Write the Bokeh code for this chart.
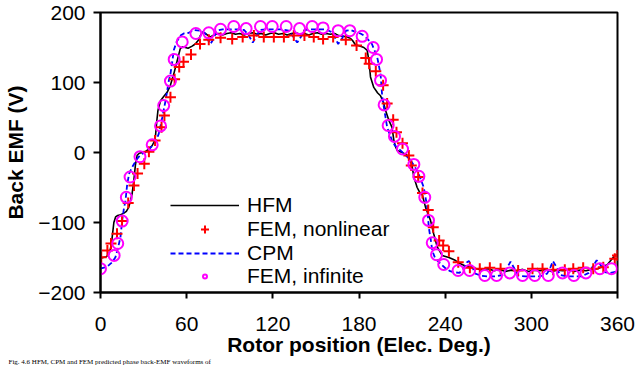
from bokeh.plotting import figure
from bokeh.models import Range1d, FixedTicker, Legend, LegendItem, Label
from bokeh.embed import file_html
from bokeh.resources import INLINE

# ---- data ----
x_ticks = [0, 60, 120, 180, 240, 300, 360]
y_ticks = [-200, -100, 0, 100, 200]

hfm_deg = [0, 2, 4, 5.5, 6.5, 7.5, 8.3, 9.3, 10.5, 12, 14, 16, 18, 19.7, 21, 22, 23.2, 24.3, 25.5, 27,
           29, 31, 33.7, 36, 37.5, 38.3, 39.2, 40, 41.8, 44, 46.4, 48.5, 51, 53.4, 55.5, 57, 59, 61, 63.8, 66,
           68, 69.5, 71, 73, 75, 76.6, 79, 82, 85, 88, 91, 94, 97, 100, 103, 106, 109, 112, 115, 118,
           121, 124, 127, 130, 133, 136, 139, 142, 145, 148, 151, 154, 157, 160, 163, 166, 169, 172, 174, 175.5,
           177.5, 180.5, 183.4, 185.7, 187, 188, 190.3, 193, 195, 197, 198.5, 200.8, 203, 204.3, 205.5, 206.6, 210, 213, 215.9, 217,
           218.2, 220.5, 222, 224, 226.3, 229.8, 232, 234.5, 237.9, 242.6, 247, 250.7, 254, 257.7, 262, 266, 270, 274, 278, 282,
           286, 290, 294, 298, 302, 306, 310, 314, 318, 322, 326, 330, 334, 338, 342, 346, 350, 353, 355, 357,
           358.6, 360]
hfm_v = [-151, -150, -149, -146, -141, -132, -118, -100, -92, -90, -89, -87, -84, -78, -68, -59, -40, -18, -4, -1,
         0, 1, 5, 10, 16, 24, 45, 60, 74, 80, 86, 95, 112, 131, 148, 151, 150, 149, 152, 155,
         160, 167, 172, 170, 167, 165, 168, 170, 168, 170, 171, 169, 170, 168, 170, 171, 169, 170, 168, 170,
         171, 169, 170, 168, 170, 171, 169, 170, 168, 170, 171, 169, 170, 169, 170, 167, 166, 165, 163, 160,
         154, 152, 150, 146, 130, 108, 93, 85, 81, 72, 60, 46, 36, 17, 8, 3, 0, -3, -11, -20,
         -35, -50, -56, -60, -78, -97, -116, -135, -147, -150, -154, -159, -162, -164, -166, -168, -166, -169, -167, -170,
         -168, -169, -167, -170, -168, -169, -167, -170, -168, -169, -167, -170, -168, -169, -167, -166, -163, -160, -155, -150,
         -147, -147]

cpm_deg = [0, 3, 5.8, 8, 10.4, 12, 13.9, 15.1, 16.3, 17.4, 18.6, 20, 22, 25.5, 28, 31.3, 34, 37.1, 39, 40.6,
           42, 43, 45.3, 47.6, 48.7, 50, 51, 53, 55.7, 58, 61.5, 65, 70, 73, 75, 76.6, 78, 81, 85, 90,
           95, 100, 103, 106, 108.5, 111, 116, 121, 126, 131, 134, 137, 139.5, 142, 147, 152, 157, 161, 163.5, 165.5,
           168, 171, 174, 178, 181, 183.4, 186, 189, 192.7, 195, 196.2, 197.3, 199.6, 203, 205, 208.9, 212, 215.9, 220.5, 223,
           225.1, 227.5, 228.6, 230, 231, 233, 236.8, 240, 243, 246, 250, 253, 255, 256.5, 258, 261, 265, 270, 275, 280,
           283, 285.5, 288, 291, 296, 301, 306, 311, 313.5, 315, 317, 320, 325, 330, 335, 340, 343, 345.5, 348, 351,
           355, 360]
cpm_v = [-166, -164, -161, -157, -149.5, -138, -121, -97, -80, -69, -45, -30, -21, -9, -3, 0.5, 5, 12, 18, 27,
         40, 50, 74, 103, 112, 130, 146, 158, 167, 170, 171, 175, 174, 170, 160, 155, 160, 174, 176, 176,
         176, 175, 168, 157, 166, 175, 176, 176, 176, 174, 166, 157, 165, 175, 176, 176, 176, 172, 163, 155,
         162, 174, 175, 172, 170, 167, 162, 155, 136, 112, 79, 65, 36, 17, 10, 3, -3, -11, -26, -38,
         -50, -78, -107, -125, -140, -151, -159, -165, -169, -171, -172, -165, -157, -155, -160, -173, -176, -177, -177, -175,
         -165, -156, -165, -176, -177, -177, -177, -173, -163, -155, -162, -175, -177, -177, -177, -172, -162, -154, -160, -171,
         -172, -170]

fem_nl_deg = [0.5, 4.8, 7.3, 11.5, 15, 19.3, 23.3, 25.8, 30.5, 33.7, 38, 42.5, 44.5, 48.7, 51.6, 54.8, 57.8, 63, 69.3, 75.4,
              83.6, 91.7, 99, 106.8, 113.7, 120.7, 127.7, 134.6, 142, 148.5, 155, 162, 170.8, 178.3, 184.7, 187.1, 191.7, 196.8, 199.6, 203.8,
              206.1, 210.3, 214.7, 216.4, 221.2, 224.2, 228.2, 231.7, 235.8, 238.6, 242.6, 249.1, 257.2, 264.1, 271.1, 278.6, 290.8, 300.8, 307.8, 315.2,
              323.3, 329.2, 336.1, 343.1, 350.1, 358.1, 360]
fem_nl_v = [-149.5, -140, -130, -116, -98, -72, -47, -30, -16, 1, 17, 36, 53, 79, 104.5, 122, 129.5, 140, 155, 161,
            164, 162, 165, 167, 165, 165, 165, 167, 167, 165, 162, 165, 161, 153, 135, 126.7, 116, 96, 70, 46.7,
            29, 13.3, -4.3, -18.6, -35, -58, -82, -106.7, -125.7, -133, -141, -156.7, -164.7, -166, -164.7, -166, -168.6, -166, -166, -167.6,
            -167.6, -166, -164.7, -166, -163.8, -151.9, -147]

fem_inf_deg = [0, 9.5, 12, 15.1, 18, 20.6, 27.5, 36, 41.8, 44, 48.7, 51.3, 56.9, 66.4, 75.4, 83.6, 92.8, 101.4, 111.4, 119.6,
               129.3, 138.6, 147.4, 155, 165.5, 173.6, 182.2, 189.9, 192.2, 195, 197.5, 200.3, 204.7, 210.3, 218.2, 221.7, 225.8, 228.4, 231, 234,
               239, 249, 257, 267.6, 275.8, 285, 293.9, 302.4, 311.8, 321.7, 329.6, 338, 347.7, 355.8]
fem_inf_v = [-166, -147, -130, -98, -64, -35, -6, 11, 38, 67, 102, 133, 158, 170, 171, 176, 180, 177, 180, 180,
             180, 177, 180, 178, 174, 174, 166, 150, 133, 103, 68, 38.6, 23, 5, -17, -34, -64, -97, -129, -146,
             -160, -168.6, -168.6, -175.7, -175.7, -172, -175.7, -175.7, -175.7, -172, -175.7, -172, -166, -166]

labels = ["HFM", "FEM, nonlinear", "CPM", "FEM, infinite"]
x_title = "Rotor position (Elec. Deg.)"
y_title = "Back EMF (V)"
caption = "Fig. 4.6 HFM, CPM and FEM predicted phase back-EMF waveforms of"

assert len(hfm_deg) == len(hfm_v)
assert len(cpm_deg) == len(cpm_v)
assert len(fem_nl_deg) == len(fem_nl_v)
assert len(fem_inf_deg) == len(fem_inf_v)

FONT = "Liberation Sans"

p = figure(width=636, height=366, output_backend="svg", toolbar_location=None,
           x_range=Range1d(0, 360), y_range=Range1d(-200, 200),
           min_border_left=100, min_border_right=19, min_border_top=12, min_border_bottom=74,
           background_fill_color="white", border_fill_color="white")

p.xgrid.visible = False
p.ygrid.visible = False
p.outline_line_color = "black"
p.outline_line_width = 2
p.outline_line_alpha = 1

for ax, ticks in ((p.xaxis, x_ticks), (p.yaxis, y_ticks)):
    ax.ticker = FixedTicker(ticks=ticks)
    ax.axis_line_color = "black"
    ax.axis_line_width = 2
    ax.major_tick_line_color = "black"
    ax.major_tick_line_width = 2
    ax.major_tick_in = 0
    ax.minor_tick_line_color = None
    ax.major_label_text_font = FONT
    ax.major_label_text_font_size = "21px"
    ax.major_label_text_color = "black"
    ax.axis_label_text_font = FONT
    ax.axis_label_text_font_size = "21px"
    ax.axis_label_text_font_style = "bold"
    ax.axis_label_text_color = "black"

p.xaxis.major_tick_out = 6
p.yaxis.major_tick_out = 7
p.xaxis.major_label_standoff = 18
p.yaxis.major_label_standoff = 8
p.xaxis.axis_label = x_title
p.yaxis.axis_label = y_title
p.xaxis.axis_label_standoff = -1
p.yaxis.axis_label_standoff = 8

r_hfm = p.line(hfm_deg, hfm_v, line_color="black", line_width=1.6)
r_cpm = p.line(cpm_deg, cpm_v, line_color="blue", line_width=1.8, line_dash="5 3")
r_nl = p.scatter(fem_nl_deg, fem_nl_v, marker="cross", size=11, line_color="red", line_width=2)
r_inf = p.scatter(fem_inf_deg, fem_inf_v, marker="circle", size=11, line_color="magenta",
                  fill_color=None, line_width=2)


def style_legend(lg, glyph_h):
    lg.border_line_color = None
    lg.background_fill_alpha = 0
    lg.padding = 0
    lg.margin = 0
    lg.spacing = 0
    lg.glyph_width = 69
    lg.glyph_height = glyph_h
    lg.label_height = 20
    lg.label_standoff = 8
    lg.label_text_font = FONT
    lg.label_text_font_size = "21px"
    lg.label_text_color = "black"


legend_a = Legend(items=[LegendItem(label=labels[0], renderers=[r_hfm]),
                         LegendItem(label=labels[1], renderers=[r_nl]),
                         LegendItem(label=labels[2], renderers=[r_cpm])],
                  location=(70, 27))
style_legend(legend_a, 20)
legend_b = Legend(items=[LegendItem(label=labels[3], renderers=[r_inf])],
                  location=(70, 4))
style_legend(legend_b, 10)
p.add_layout(legend_a)
p.add_layout(legend_b)

cap = Label(x=-92, y=1, x_units="screen", y_units="screen", text=caption,
            text_font="Liberation Serif", text_font_size="7px", text_baseline="bottom",
            text_color="black")
p.add_layout(cap, "below")

open("out.html", "w").write(file_html(p, INLINE))
